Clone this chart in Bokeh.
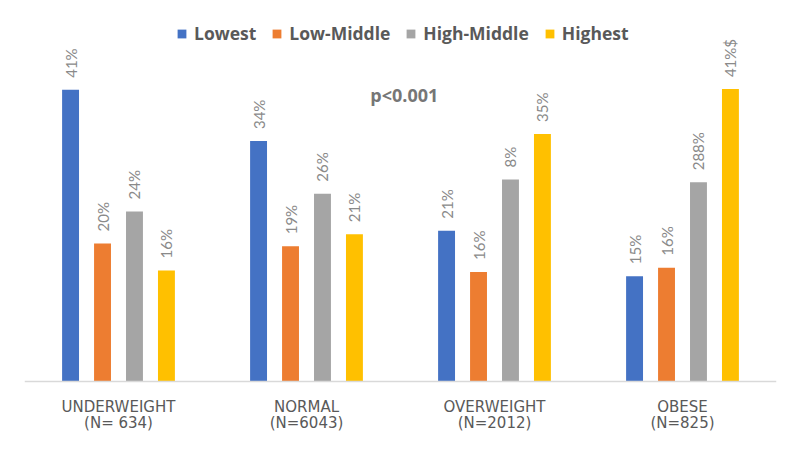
import math
from bokeh.plotting import figure
from bokeh.models import ColumnDataSource, FactorRange, Range1d, Legend, LegendItem, Label, Span
from bokeh.transform import dodge
from bokeh.core.properties import value
from bokeh.embed import file_html
from bokeh.resources import INLINE

categories = ["UNDERWEIGHT", "NORMAL", "OVERWEIGHT", "OBESE"]
n_labels = ["(N= 634)", "(N=6043)", "(N=2012)", "(N=825)"]
series_names = ["Lowest", "Low-Middle", "High-Middle", "Highest"]
lowest = [41.0, 33.8, 21.2, 14.8]
low_middle = [19.4, 19.0, 15.4, 16.0]
high_middle = [23.9, 26.4, 28.4, 28.0]
highest = [15.6, 20.7, 34.8, 41.1]
lowest_lbl = ["41%", "34%", "21%", "15%"]
low_middle_lbl = ["20%", "19%", "16%", "16%"]
high_middle_lbl = ["24%", "26%", "8%", "288%"]
highest_lbl = ["16%", "21%", "35%", "41%$"]
p_text = "p<0.001"

colors = ["#4472C4", "#ED7D31", "#A5A5A5", "#FFC000"]
offsets = [-0.255, -0.085, 0.085, 0.255]

p = figure(width=784, height=433, x_range=FactorRange(*categories, range_padding=0),
           y_range=Range1d(-7.31, 52.85), x_axis_location=None, y_axis_location=None,
           output_backend="svg", toolbar_location=None,
           min_border_left=24, min_border_right=8, min_border_top=5, min_border_bottom=0)
p.outline_line_color = None
p.xgrid.visible = False
p.ygrid.visible = False

series_vals = [lowest, low_middle, high_middle, highest]
series_lbls = [lowest_lbl, low_middle_lbl, high_middle_lbl, highest_lbl]
items = []
for name, vals, lbls, col, off in zip(series_names, series_vals, series_lbls, colors, offsets):
    src = ColumnDataSource(dict(cat=categories, v=vals, lbl=lbls))
    r = p.vbar(x=dodge("cat", off, range=p.x_range), top="v", bottom=0, width=0.09, source=src,
               fill_color=col, line_color=None)
    items.append(LegendItem(label=name, renderers=[r]))
    p.text(x=dodge("cat", off, range=p.x_range), y="v", text="lbl", source=src,
           angle=math.pi / 2, text_align="left", text_baseline="middle",
           x_offset=0, y_offset=-12,
           text_font=value("Lato"), text_font_size="15px", text_color="#8A8A8A")

# baseline (category axis line)
p.add_layout(Span(location=0, dimension="width", line_color="#D9D9D9", line_width=1.5))

# category labels (two lines)
cat_src = ColumnDataSource(dict(cat=categories, n=n_labels))
p.text(x="cat", y=0, text="cat", source=cat_src, y_offset=26,
       text_align="center", text_baseline="alphabetic",
       text_font=value("DejaVu Sans"), text_font_size="15px", text_color="#595959")
p.text(x="cat", y=0, text="n", source=cat_src, y_offset=42,
       text_align="center", text_baseline="alphabetic",
       text_font=value("DejaVu Sans"), text_font_size="15px", text_color="#595959")

legend = Legend(items=items, orientation="horizontal", location=(152, 388),
                label_text_font="Open Sans", label_text_font_style="bold",
                label_text_font_size="17.5px", label_text_color="#595959",
                glyph_width=11, glyph_height=11, label_standoff=7, spacing=15,
                padding=0, margin=0, border_line_color=None, background_fill_alpha=0)
p.add_layout(legend)

p.add_layout(Label(x=2.02, y=40.34, text=p_text, text_align="center", text_baseline="alphabetic",
                   text_font="Open Sans", text_font_style="bold", text_font_size="18px",
                   text_color="#767676"))

open("out.html", "w").write(file_html(p, INLINE))
